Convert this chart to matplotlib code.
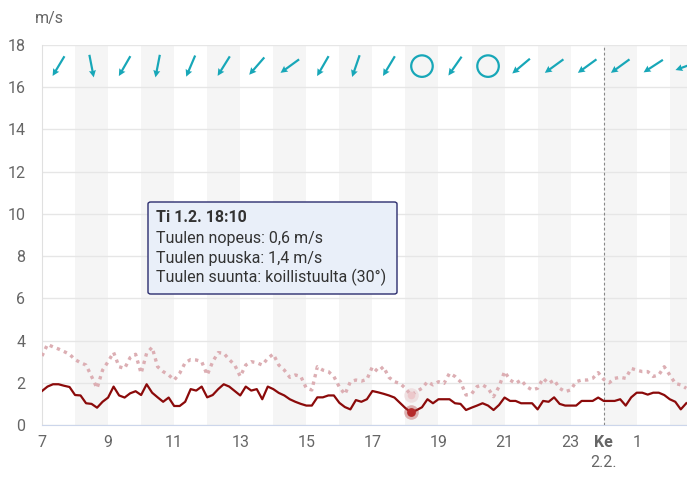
import numpy as np
import matplotlib
matplotlib.use("Agg")
import matplotlib.pyplot as plt
from matplotlib.patches import FancyBboxPatch

plt.rcParams['font.family'] = ['Roboto', 'DejaVu Sans']

# 10 minute observations, hours counted from midnight of Ti 1.2. (24 = Ke 2.2. 00:00)
start_hour = 7.0
step_hour = 1.0 / 6.0

wind_speed = [
    1.61, 1.82, 1.93, 1.93, 1.86, 1.80, 1.42, 1.40, 1.03, 1.00, 0.82, 1.10,
    1.30, 1.82, 1.40, 1.30, 1.50, 1.60, 1.42, 1.93, 1.53, 1.31, 1.10, 1.30,
    0.90, 0.90, 1.10, 1.70, 1.63, 1.82, 1.31, 1.42, 1.70, 1.93, 1.82, 1.61,
    1.40, 1.82, 1.63, 1.70, 1.22, 1.82, 1.70, 1.52, 1.40, 1.22, 1.10, 1.00,
    0.92, 0.92, 1.31, 1.31, 1.40, 1.40, 1.05,
    0.85, 0.74, 1.18, 1.10, 1.22, 1.61, 1.55, 1.48, 1.40, 1.30, 1.05, 0.80,
    0.60, 0.70, 0.84, 1.22, 1.03, 1.22, 1.22, 1.22, 1.03, 1.00, 0.71, 0.82,
    0.92, 1.03, 0.92, 0.71, 0.95, 1.30, 1.14, 1.14, 1.03, 1.03, 1.03, 0.74,
    1.14, 1.10, 1.31, 1.00, 0.92, 0.92, 0.92, 1.14, 1.14, 1.14, 1.30, 1.14,
    1.14, 1.14, 1.22, 0.92, 1.31, 1.53, 1.53, 1.44, 1.53, 1.53, 1.42, 1.22,
    1.10, 0.74, 1.03,
]

wind_gust = [
    3.27, 3.82, 3.70, 3.60, 3.48, 3.35, 3.10, 2.95, 2.84, 2.30, 1.74, 2.60,
    3.00, 3.44, 2.76, 2.68, 3.19, 3.35, 2.45, 3.40, 3.68, 2.76, 2.53, 2.37,
    2.13, 2.45, 2.95, 3.10, 3.08, 3.00, 2.37, 3.00, 3.43, 3.40, 3.10, 2.84,
    2.30, 2.84, 3.00, 2.95, 2.84, 3.16, 3.36, 2.84, 2.60, 2.26, 2.37, 2.30,
    1.74, 1.66, 2.76, 2.60, 2.53, 2.30, 1.80,
    1.45, 2.05, 2.13, 2.08, 2.16, 2.76, 2.53, 2.76, 2.26, 2.05, 1.97, 1.74,
    1.42, 1.58, 1.74, 2.05, 1.90, 2.05, 1.97, 2.45, 2.30, 2.05, 1.42, 1.47,
    1.82, 1.90, 1.74, 1.34, 1.82, 2.53, 2.13, 1.97, 2.13, 1.82, 1.66, 1.74,
    2.21, 1.97, 2.13, 1.74, 1.58, 1.66, 2.05, 2.13, 2.13, 2.21, 2.48, 2.16,
    2.00, 2.21, 2.26, 2.21, 2.68, 2.60, 2.53, 2.53, 2.30, 2.37, 2.76, 2.37,
    1.97, 1.90, 1.74,
]

# hourly direction symbols (degrees the wind blows from, None = calm)
arrow_hours = [7.5 + i for i in range(20)]
arrow_dirs = [31, 349, 30, 11, 23, 32, 41, 54, 30, 19, 31, None, 35, None,
              50, 54, 54, 54, 57, 70]

tick_hours = [7, 9, 11, 13, 15, 17, 19, 21, 23, 25]
tick_labels = ['7', '9', '11', '13', '15', '17', '19', '21', '23', '1']

hover_index = 67  # 18:10
tooltip_lines = ['Ti 1.2. 18:10', 'Tuulen nopeus: 0,6 m/s',
                 'Tuulen puuska: 1,4 m/s', 'Tuulen suunta: koillistuulta (30°)']

hours = start_hour + step_hour * np.arange(len(wind_speed))

W, H = 687, 483
fig = plt.figure(figsize=(W / 100, H / 100), dpi=100)
ax = fig.add_axes([42 / W, 1 - 425 / H, (W - 42) / W, (425 - 45) / H])

ax.set_xlim(7, 7 + (W - 42) / 33.04)
ax.set_ylim(0, 18)

# alternating hour bands
for h in range(8, 28, 2):
    ax.axvspan(h, h + 1, color='#f5f5f5', lw=0, zorder=0)

ax.set_yticks(range(0, 19, 2))
ax.yaxis.grid(True, color='#e6e6e6', lw=1)
ax.set_axisbelow(True)
for s in ['top', 'right']:
    ax.spines[s].set_visible(False)
ax.spines['bottom'].set_color('#ccd6eb')
ax.spines['left'].set_color('#e0e0e0')
ax.tick_params(axis='both', length=0, labelsize=11.5, colors='#666666')
ax.tick_params(axis='y', pad=12)
ax.tick_params(axis='x', pad=7)
ax.set_xticks(tick_hours)
ax.set_xticklabels(tick_labels)

xt = ax.get_xaxis_transform()
ax.text(24, -0.026, 'Ke', transform=xt, ha='center', va='top', fontsize=11.5,
        fontweight='bold', color='#666666')
ax.text(24, -0.079, '2.2.', transform=xt, ha='center', va='top', fontsize=11.5,
        color='#666666')

ax.axvline(24, color='#888888', lw=0.8, ls=(0, (2.5, 2)), zorder=3)

ax.plot(hours, wind_gust, color='#dcaeb3', lw=2.4, ls=(0, (1, 1.3)), zorder=4)
ax.plot(hours, wind_speed, color='#8b0a0a', lw=1.6, zorder=5)

# hover markers
hx = hours[hover_index]
ax.scatter([hx], [wind_gust[hover_index]], s=110, color='#e3b9bd', alpha=0.35, lw=0, zorder=6)
ax.scatter([hx], [wind_gust[hover_index]], s=30, color='#ecc8cb', lw=0, zorder=7)
ax.scatter([hx], [wind_speed[hover_index]], s=110, color='#b03030', alpha=0.35, lw=0, zorder=6)
ax.scatter([hx], [wind_speed[hover_index]], s=40, color='#b52a2a', lw=0, zorder=7)

# direction arrows
teal = '#17a7b8'
ax_x, ax_u, ax_v = [], [], []
calm_x = []
for h, d in zip(arrow_hours, arrow_dirs):
    if d is None:
        calm_x.append(h)
    else:
        r = np.radians(d)
        ax_x.append(h)
        ax_u.append(-np.sin(r))
        ax_v.append(-np.cos(r))
ax.quiver(ax_x, [17] * len(ax_x), ax_u, ax_v, angles='uv', pivot='middle',
          scale_units='inches', scale=1 / 0.23, color=teal, width=0.0034,
          headwidth=3.2, headlength=3.2, headaxislength=2.9, zorder=5)
ax.scatter(calm_x, [17] * len(calm_x), s=240, facecolors='none',
           edgecolors=teal, linewidths=1.6, zorder=5)

fig.text(35 / W, 1 - 18 / H, 'm/s', ha='left', va='center', fontsize=11.5,
         color='#666666')

# tooltip
box = FancyBboxPatch((148 / W, 1 - 294 / H), (397 - 148) / W, (294 - 202) / H,
                     boxstyle='round,pad=0,rounding_size=0.004',
                     transform=fig.transFigure, facecolor='#e9eff9',
                     edgecolor='#2b2d6e', lw=1.0, zorder=10)
fig.patches.append(box)
line_y = [218, 239, 258, 277]
for i, (txt, y) in enumerate(zip(tooltip_lines, line_y)):
    fig.text(156 / W, 1 - y / H, txt, ha='left', va='center', fontsize=11.5,
             color='#333333', fontweight='bold' if i == 0 else 'normal',
             zorder=11)

fig.savefig('out.png', dpi=100)
